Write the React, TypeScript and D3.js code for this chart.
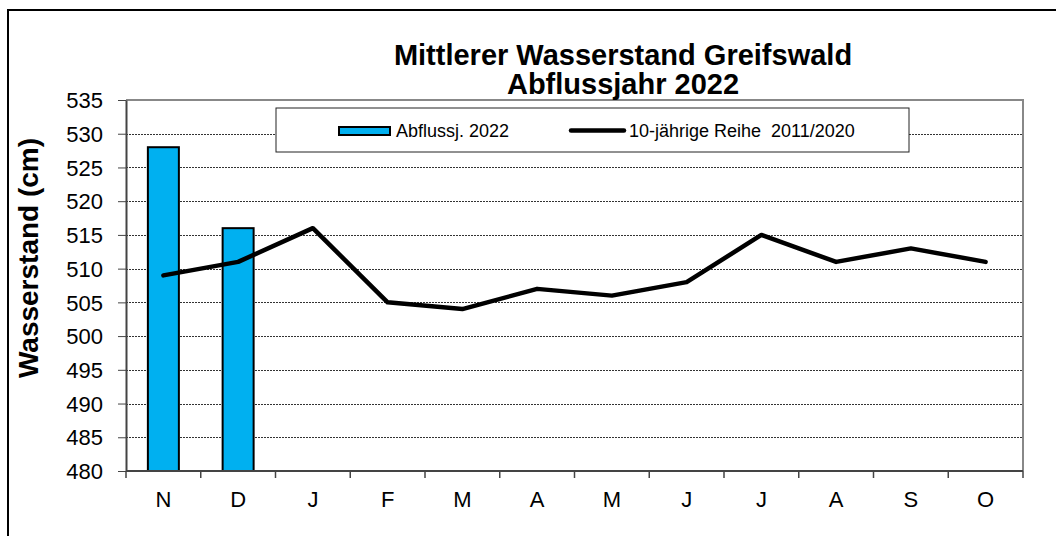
import React, { useEffect, useRef } from 'react';
import * as d3 from 'd3';

const months = ['N', 'D', 'J', 'F', 'M', 'A', 'M', 'J', 'J', 'A', 'S', 'O'];
const current = [528, 516];
const average = [509, 511, 516, 505, 504, 507, 506, 508, 515, 511, 513, 511];
const yTicks = [480, 485, 490, 495, 500, 505, 510, 515, 520, 525, 530, 535];

export default function App() {
  const ref = useRef<SVGSVGElement>(null);

  useEffect(() => {
    const svg = d3.select(ref.current);
    svg.selectAll('*').remove();
    const font = 'Liberation Sans, Arial, sans-serif';
    const left = 126, right = 1023, top = 100, bottom = 471;

    const x = d3.scaleLinear().domain([0, months.length]).range([left, right]);
    const xc = (i: number) => x(i + 0.5);
    const y = d3.scaleLinear().domain([480, 535]).range([bottom, top]);

    // outer frame
    svg.append('rect').attr('x', 8).attr('y', 10).attr('width', 1060).attr('height', 540)
      .attr('fill', 'white').attr('stroke', 'black').attr('stroke-width', 2);

    // gridlines
    svg.append('g').selectAll('line').data(yTicks.filter(t => t > 480 && t < 535)).join('line')
      .attr('x1', left).attr('x2', right).attr('y1', d => Math.round(y(d)) + 0.5).attr('y2', d => Math.round(y(d)) + 0.5)
      .attr('stroke', '#333').attr('stroke-width', 1).attr('stroke-dasharray', '2,1');

    // plot border top/right
    svg.append('path').attr('d', `M${left},${top}H${right}V${bottom}`)
      .attr('fill', 'none').attr('stroke', '#888').attr('stroke-width', 2);

    // bars
    svg.append('g').selectAll('rect').data(current).join('rect')
      .attr('x', (d, i) => xc(i) - 15.5).attr('width', 31)
      .attr('y', d => y(d)).attr('height', d => bottom - y(d))
      .attr('fill', '#00B0F0').attr('stroke', 'black').attr('stroke-width', 2);

    // line
    const line = d3.line<number>().x((d, i) => xc(i)).y(d => y(d));
    svg.append('path').datum(average).attr('d', line)
      .attr('fill', 'none').attr('stroke', 'black').attr('stroke-width', 4.5)
      .attr('stroke-linejoin', 'round').attr('stroke-linecap', 'round');

    // y axis
    const yAxis = svg.append('g').attr('transform', `translate(${left},0)`)
      .call(d3.axisLeft(y).tickValues(yTicks).tickSize(8).tickSizeOuter(0));
    yAxis.select('.domain').attr('stroke', '#444').attr('stroke-width', 2);
    yAxis.selectAll('.tick line').attr('stroke', '#444');
    yAxis.selectAll('.tick text').attr('font-family', font).attr('font-size', 22).attr('fill', 'black')
      .attr('x', -23).attr('dy', '0.35em');

    // x axis
    const xAxis = svg.append('g').attr('transform', `translate(0,${bottom})`);
    xAxis.append('line').attr('x1', left).attr('x2', right).attr('y1', 0).attr('y2', 0)
      .attr('stroke', '#444').attr('stroke-width', 2);
    xAxis.selectAll('line.t').data(d3.range(months.length + 1)).join('line').attr('class', 't')
      .attr('x1', d => x(d)).attr('x2', d => x(d)).attr('y1', 0).attr('y2', 7)
      .attr('stroke', '#444').attr('stroke-width', 1.5);
    xAxis.selectAll('text').data(months).join('text')
      .attr('x', (d, i) => xc(i)).attr('y', 36).attr('text-anchor', 'middle')
      .attr('font-family', font).attr('font-size', 22).text(d => d);

    // titles
    svg.append('text').attr('x', 623).attr('y', 65).attr('text-anchor', 'middle')
      .attr('font-family', font).attr('font-weight', 'bold').attr('font-size', 29).text('Mittlerer Wasserstand Greifswald');
    svg.append('text').attr('x', 623).attr('y', 94).attr('text-anchor', 'middle')
      .attr('font-family', font).attr('font-weight', 'bold').attr('font-size', 29).text('Abflussjahr 2022');
    svg.append('text').attr('transform', `translate(38,258) rotate(-90)`)
      .attr('text-anchor', 'middle').attr('font-family', font).attr('font-weight', 'bold').attr('font-size', 28)
      .text('Wasserstand (cm)');

    // legend
    const lg = svg.append('g');
    lg.append('rect').attr('x', 276).attr('y', 108).attr('width', 633).attr('height', 44)
      .attr('fill', 'white').attr('stroke', '#222').attr('stroke-width', 1);
    lg.append('rect').attr('x', 339).attr('y', 127).attr('width', 51).attr('height', 8)
      .attr('fill', '#00B0F0').attr('stroke', 'black').attr('stroke-width', 2);
    lg.append('text').attr('x', 396).attr('y', 137).attr('font-family', font).attr('font-size', 18).text('Abflussj. 2022');
    lg.append('line').attr('x1', 571).attr('x2', 624).attr('y1', 130.5).attr('y2', 130.5)
      .attr('stroke', 'black').attr('stroke-width', 4.5).attr('stroke-linecap', 'round');
    lg.append('text').attr('x', 629).attr('y', 137).attr('font-family', font).attr('font-size', 18)
      .style('white-space', 'pre').text('10-jährige Reihe  2011/2020');
  }, []);

  return <svg ref={ref} width={1056} height={536} style={{ position: 'absolute', left: 0, top: 0 }} />;
}
